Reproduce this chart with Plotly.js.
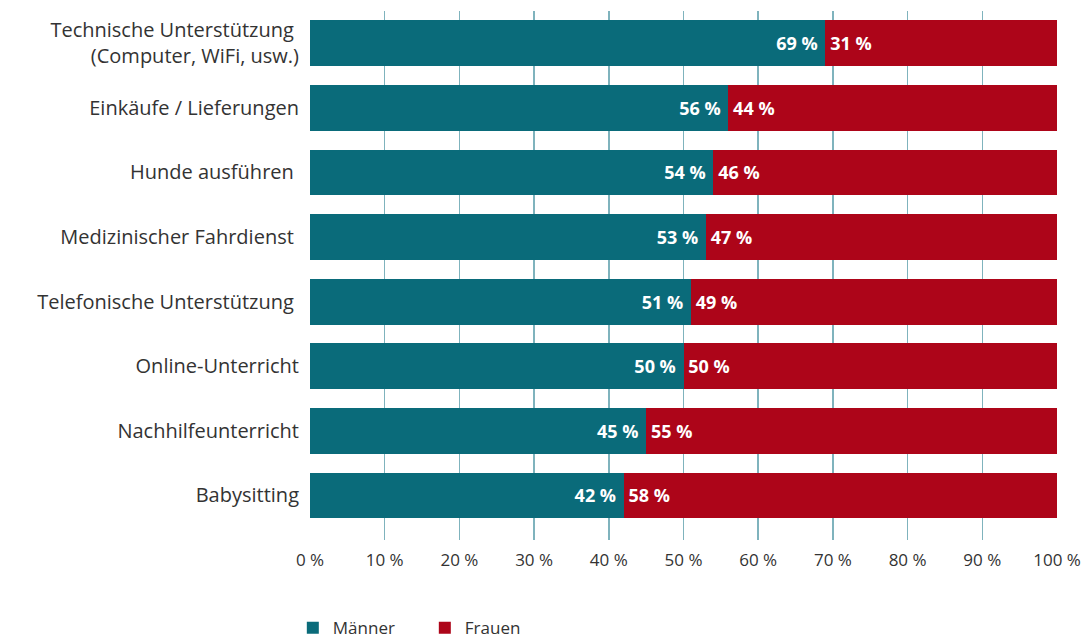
<!DOCTYPE html>
<html>
<head>
<meta charset="utf-8">
<script src="https://cdn.plot.ly/plotly-3.0.1.min.js"></script>
<style>html,body{margin:0;padding:0;background:#fff;}#chart{width:1084px;height:639px;}</style>
</head>
<body>
<div id="chart"></div>
<script>
var categories = [
  "Technische Unterstützung\u00a0<br>(Computer, WiFi, usw.)",
  "Einkäufe / Lieferungen",
  "Hunde ausführen\u00a0",
  "Medizinischer Fahrdienst\u00a0",
  "Telefonische Unterstützung\u00a0",
  "Online-Unterricht",
  "Nachhilfeunterricht",
  "Babysitting"
];
var maenner = [69, 56, 54, 53, 51, 50, 45, 42];
var frauen = [31, 44, 46, 47, 49, 50, 55, 58];
var tickVals = [0, 10, 20, 30, 40, 50, 60, 70, 80, 90, 100];
var tickText = ["0 %", "10 %", "20 %", "30 %", "40 %", "50 %", "60 %", "70 %", "80 %", "90 %", "100 %"];

var FONT = "Open Sans, sans-serif";
var teal = "#0a6b7a", red = "#ad0519";

var traces = [
  {
    type: "bar", orientation: "h", name: "Männer",
    y: categories, x: maenner,
    marker: {color: teal},
    text: maenner.map(function(v){return v + " %\u00a0";}),
    textposition: "inside", insidetextanchor: "end",
    textfont: {color: "#ffffff", size: 18, family: FONT, weight: "bold"},
    hoverinfo: "none", cliponaxis: false, width: 0.71
  },
  {
    type: "bar", orientation: "h", name: "Frauen",
    y: categories, x: frauen,
    marker: {color: red},
    text: frauen.map(function(v){return "\u200a" + v + " %";}),
    textposition: "inside", insidetextanchor: "start",
    textfont: {color: "#ffffff", size: 18, family: FONT, weight: "bold"},
    hoverinfo: "none", cliponaxis: false, width: 0.71
  }
];

var layout = {
  width: 1084, height: 639,
  margin: {l: 310, r: 27, t: 11, b: 99, autoexpand: false},
  barmode: "stack",
  paper_bgcolor: "#ffffff", plot_bgcolor: "#ffffff",
  font: {family: FONT, color: "#333333", size: 18},
  xaxis: {
    range: [0, 100], tickvals: tickVals, ticktext: tickText,
    showgrid: true, gridcolor: "#7fb3bd", gridwidth: 1.5,
    zeroline: false, showline: false, ticks: "",
    ticklabelstandoff: 8,
    tickfont: {size: 17, color: "#333333"},
    fixedrange: true
  },
  yaxis: {
    type: "category", range: [7.69, -0.5], autorange: false,
    showgrid: false, zeroline: false, showline: false, ticks: "",
    ticklabelstandoff: 10,
    tickfont: {size: 20, color: "#333333"},
    fixedrange: true
  },
  showlegend: true,
  legend: {
    orientation: "h", x: -0.023, xanchor: "left",
    yref: "container", y: 0.017, yanchor: "middle",
    font: {size: 17, color: "#333333"}, traceorder: "normal",
    entrywidth: 87
  }
};

Plotly.newPlot("chart", traces, layout, {displayModeBar: false, staticPlot: true});
</script>
</body>
</html>
